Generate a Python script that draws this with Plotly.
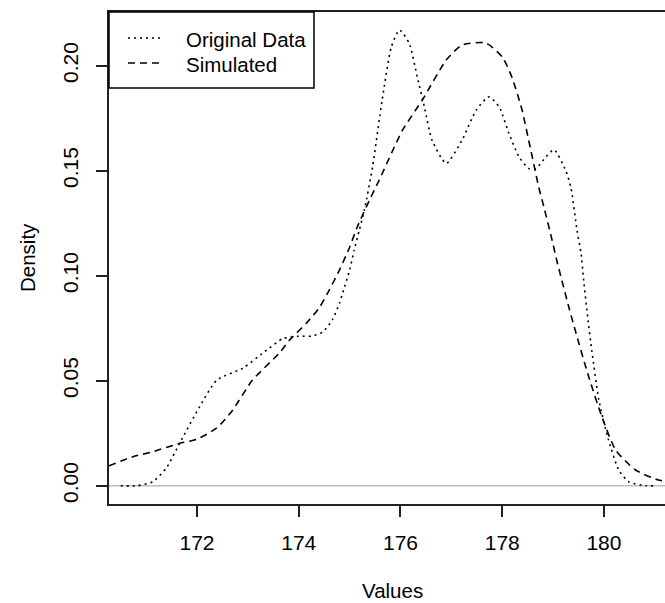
import plotly.graph_objects as go

# ---- data ----
orig_x = [170.5, 170.82, 171.13, 171.4, 171.66, 172.05, 172.39, 172.9, 173.37, 173.68, 174.0, 174.27,
          174.47, 174.66, 174.8, 174.9, 175.0, 175.09, 175.19, 175.29, 175.45, 175.64, 175.82, 175.98,
          176.17, 176.33, 176.47, 176.62, 176.9, 177.21, 177.49, 177.74, 177.94, 178.13, 178.33,
          178.52, 178.66, 178.86, 179.02, 179.25, 179.35, 179.47, 179.55, 179.6, 179.68, 179.76,
          179.9, 180.09, 180.29, 180.49, 180.82, 181.0]
orig_y = [0.0, 0.0, 0.0019, 0.0085, 0.0203, 0.0376, 0.0503, 0.056, 0.0646, 0.070, 0.0712, 0.0713,
          0.0732, 0.0789, 0.0869, 0.0946, 0.1027, 0.1122, 0.1217, 0.1312, 0.1517, 0.1837, 0.2089, 0.2170,
          0.2108, 0.1946, 0.1804, 0.1646, 0.1535, 0.1646, 0.1789, 0.1852, 0.1804, 0.1679, 0.1566,
          0.1511, 0.151, 0.1566, 0.160, 0.150, 0.142, 0.1217, 0.1107, 0.098, 0.0803, 0.0646,
          0.0408, 0.0218, 0.0075, 0.0018, 0.0, 0.0]

sim_x = [170.27, 170.74, 171.13, 171.66, 171.99, 172.39, 172.7, 173.09, 173.62, 173.82, 174.15,
         174.41, 174.6, 174.8, 175.0, 175.15, 175.39, 175.58, 176.04, 176.43, 176.9, 177.21, 177.68,
         178.0, 178.19, 178.39, 178.52, 178.72, 178.82, 178.98, 179.07, 179.17, 179.31, 179.45,
         179.7, 179.96, 180.23, 180.62, 181.07, 181.2]
sim_y = [0.0095, 0.0138, 0.0162, 0.0202, 0.0221, 0.0275, 0.036, 0.0503, 0.0632, 0.0694, 0.0774,
         0.085, 0.0932, 0.1027, 0.1136, 0.1232, 0.1360, 0.1455, 0.1693, 0.1837, 0.2027, 0.2099, 0.2108,
         0.2042, 0.1946, 0.1789, 0.1646, 0.142, 0.1327, 0.117, 0.1075, 0.098, 0.085, 0.0727,
         0.0519, 0.0328, 0.0170, 0.0075, 0.0027, 0.0022]

x_ticks = [172, 174, 176, 178, 180]
y_ticks = [0.0, 0.05, 0.10, 0.15, 0.20]
y_tick_labels = ["0.00", "0.05", "0.10", "0.15", "0.20"]
series_names = ["Original Data", "Simulated"]

FONT = "Liberation Sans, Arial, sans-serif"
DOT = "2px,4px"
DASH = "7px,5px"

fig = go.Figure()
fig.add_trace(go.Scatter(x=orig_x, y=orig_y, mode="lines", name=series_names[0],
                         line=dict(color="black", width=1.6, dash=DOT, shape="spline", smoothing=0.6),
                         showlegend=False))
fig.add_trace(go.Scatter(x=sim_x, y=sim_y, mode="lines", name=series_names[1],
                         line=dict(color="black", width=1.6, dash=DASH, shape="spline", smoothing=0.6),
                         showlegend=False))

# plot area in pixels: x 109..665, y 12..504
L, R, T, B = 109, 665, 12, 504
def px(xp):
    return (xp - L) / (R - L)
def py(yp):
    return (B - yp) / (B - T)

shapes = [
    dict(type="line", xref="paper", yref="y", x0=0, x1=1, y0=0, y1=0,
         line=dict(color="#bebebe", width=1.5), layer="below"),
    dict(type="rect", xref="paper", yref="paper", x0=px(109), x1=px(314), y0=py(88), y1=py(12),
         line=dict(color="black", width=1.5), fillcolor="white"),
    dict(type="line", xref="paper", yref="paper", x0=px(128), x1=px(163), y0=py(38), y1=py(38),
         line=dict(color="black", width=1.6, dash=DOT)),
    dict(type="line", xref="paper", yref="paper", x0=px(128), x1=px(163), y0=py(63), y1=py(63),
         line=dict(color="black", width=1.6, dash=DASH)),
]

annotations = [
    dict(text=series_names[0], xref="paper", yref="paper", x=px(184), y=py(39), xanchor="left",
         yanchor="middle", showarrow=False, font=dict(family=FONT, size=20.5, color="black")),
    dict(text=series_names[1], xref="paper", yref="paper", x=px(184), y=py(64), xanchor="left",
         yanchor="middle", showarrow=False, font=dict(family=FONT, size=20.5, color="black")),
    dict(text="Values", xref="paper", yref="paper", x=px(392), y=py(590), xanchor="center",
         yanchor="middle", showarrow=False, font=dict(family=FONT, size=20.5, color="black")),
    dict(text="Density", xref="paper", yref="paper", x=px(27), y=py(258), xanchor="center",
         yanchor="middle", textangle=-90, showarrow=False, font=dict(family=FONT, size=20.5, color="black")),
]

fig.update_layout(
    width=665, height=603,
    margin=dict(l=L, r=0, t=T, b=603 - B),
    plot_bgcolor="white", paper_bgcolor="white",
    font=dict(family=FONT, size=20, color="black"),
    shapes=shapes, annotations=annotations,
    xaxis=dict(range=[170.27, 181.2], tickvals=x_ticks, ticktext=[str(v) for v in x_ticks],
               ticks="outside", ticklen=11, tickwidth=1.5, tickcolor="#222",
               showline=True, linecolor="#222", linewidth=1.5, mirror=True,
               showgrid=False, zeroline=False, ticklabelstandoff=8,
               tickfont=dict(family=FONT, size=21, color="black")),
    yaxis=dict(range=[-0.0087, 0.2256], tickvals=y_ticks, ticktext=y_tick_labels,
               ticks="outside", ticklen=11, tickwidth=1.5, tickcolor="#222", tickangle=-90,
               showline=True, linecolor="#222", linewidth=1.5, mirror=False,
               showgrid=False, zeroline=False, ticklabelstandoff=10,
               tickfont=dict(family=FONT, size=21, color="black")),
)

fig.write_html("out.html", config={"displayModeBar": False},
               post_script="document.body.style.margin='0';document.body.style.overflow='hidden';")
